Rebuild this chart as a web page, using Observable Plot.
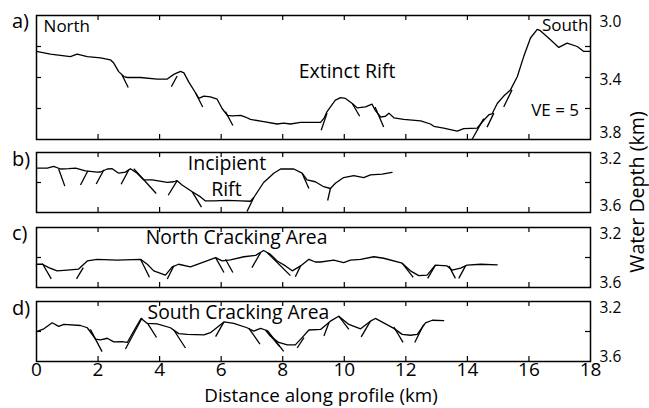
<!DOCTYPE html>
<html><head><meta charset="utf-8">
<script src="https://cdn.jsdelivr.net/npm/d3@7"></script>
<script src="https://cdn.jsdelivr.net/npm/@observablehq/plot@0.6"></script>
<style>
body{margin:0;background:#fff;}
#chart{position:relative;width:649px;height:408px;overflow:hidden;font-family:"Open Sans",sans-serif;background:#fff;}
#chart svg{position:absolute;left:0;}
</style></head><body><div id="chart"></div>
<script>
// ---------- data ----------
const xTickValues = [0,2,4,6,8,10,12,14,16,18];

const profileA_km = [0,0.45,1.1,1.32,1.65,2.08,2.4,2.51,2.67,2.84,2.95,3.38,3.92,4.25,4.46,4.68,4.79,4.95,5.17,5.27,5.44,5.65,5.87,6.03,6.2,6.36,6.63,6.79,6.95,7.38,7.82,8.03,8.25,8.58,9.23,9.35,9.44,9.71,9.88,10.04,10.26,10.42,10.69,10.9,11.0,11.18,11.34,11.45,11.61,11.93,12.48,12.8,12.91,13.23,13.67,13.88,14.32,14.53,14.7,14.8,14.97,15.18,15.4,15.62,15.83,16.05,16.27,16.37,16.7,16.97,17.24,17.57,17.78,18];
const profileA_depth = [3.232,3.249,3.265,3.249,3.265,3.273,3.286,3.307,3.362,3.394,3.40,3.40,3.41,3.41,3.38,3.36,3.37,3.43,3.50,3.535,3.52,3.525,3.54,3.60,3.644,3.648,3.644,3.655,3.67,3.685,3.70,3.694,3.70,3.69,3.69,3.66,3.62,3.546,3.53,3.535,3.568,3.596,3.59,3.572,3.61,3.655,3.65,3.63,3.66,3.67,3.68,3.70,3.715,3.726,3.746,3.73,3.726,3.676,3.64,3.635,3.568,3.52,3.48,3.395,3.265,3.145,3.09,3.098,3.156,3.206,3.178,3.2,3.232,3.232];
const faultsA = [[2.78,3.384,2.98,3.464],[4.38,3.46,4.57,3.39],[5.17,3.50,5.4,3.59],[6.14,3.62,6.38,3.71],[9.44,3.63,9.25,3.74],[10.26,3.568,10.5,3.65],[11.0,3.59,11.28,3.72],[14.15,3.80,14.53,3.665],[14.64,3.72,14.86,3.63],[15.18,3.59,15.45,3.48]];

const profileB_km = [0,0.35,0.56,0.78,1.05,1.27,1.59,1.97,2.08,2.3,2.46,2.67,2.89,3.05,3.27,3.49,3.76,4.25,4.46,4.57,4.73,5.06,5.33,5.49,5.76,6.2,6.63,6.95,7.06,7.38,7.71,7.93,8.36,8.63,8.79,9.06,9.33,9.55,9.71,9.98,10.31,10.63,10.85,11.23,11.55];
const profileB_depth = [3.304,3.304,3.293,3.31,3.308,3.304,3.322,3.331,3.33,3.31,3.308,3.338,3.331,3.308,3.338,3.383,3.383,3.399,3.395,3.388,3.417,3.462,3.496,3.523,3.523,3.519,3.523,3.525,3.50,3.40,3.338,3.31,3.31,3.338,3.383,3.395,3.428,3.44,3.405,3.367,3.354,3.367,3.349,3.344,3.333];
const faultsB = [[0.72,3.31,0.92,3.424],[1.67,3.322,1.43,3.417],[2.19,3.315,1.94,3.41],[3.0,3.315,2.75,3.412],[3.16,3.308,3.89,3.473],[4.57,3.388,4.28,3.485],[5.06,3.462,5.36,3.564],[7.06,3.50,6.84,3.593],[8.63,3.338,8.85,3.44],[9.55,3.44,9.46,3.52]];

const profileC_km = [0,0.19,0.4,0.67,1.0,1.37,1.65,1.97,2.62,3.38,3.6,3.81,4.19,4.41,4.62,5.0,5.38,5.82,6.03,6.3,6.74,7.12,7.38,7.6,7.82,8.09,8.31,8.58,8.85,9.06,9.23,9.66,9.98,10.2,10.53,10.96,11.28,11.88,12.15,12.42,12.69,12.96,13.34,13.5,13.78,13.99,14.43,14.97];
const profileC_depth = [3.445,3.445,3.467,3.489,3.484,3.477,3.423,3.412,3.418,3.412,3.445,3.489,3.517,3.462,3.445,3.462,3.434,3.401,3.423,3.416,3.395,3.386,3.353,3.379,3.423,3.456,3.489,3.456,3.412,3.43,3.43,3.418,3.434,3.418,3.412,3.395,3.405,3.438,3.489,3.521,3.517,3.451,3.456,3.484,3.471,3.451,3.445,3.449];
const faultsC = [[0.19,3.44,0.48,3.543],[1.52,3.467,1.3,3.543],[3.38,3.412,3.67,3.532],[4.46,3.456,4.25,3.543],[5.82,3.401,6.09,3.50],[6.14,3.412,6.38,3.50],[7.28,3.368,7.0,3.467],[7.5,3.368,8.25,3.521],[8.58,3.456,8.41,3.528],[11.88,3.438,12.24,3.532],[12.96,3.451,12.71,3.539],[13.4,3.456,13.61,3.539],[13.94,3.456,13.72,3.539]];

const profileD_km = [0,0.24,0.51,0.72,0.89,1.43,1.65,1.92,2.08,2.3,2.51,2.78,2.95,3.16,3.4,3.6,3.92,4.35,4.62,4.9,5.44,5.65,6.09,6.41,6.84,7.06,7.28,7.44,7.6,7.87,8.15,8.41,8.63,8.85,9.23,9.55,9.82,10.15,10.53,10.85,11.01,11.28,11.61,11.88,12.15,12.37,12.64,12.86,13.23];
const profileD_depth = [3.401,3.382,3.342,3.366,3.353,3.36,3.375,3.451,3.456,3.445,3.469,3.467,3.473,3.397,3.313,3.346,3.349,3.375,3.414,3.419,3.423,3.408,3.336,3.346,3.375,3.397,3.379,3.39,3.43,3.473,3.489,3.489,3.441,3.39,3.386,3.331,3.298,3.353,3.382,3.331,3.313,3.342,3.379,3.419,3.425,3.419,3.342,3.325,3.327];
const faultsD = [[1.75,3.386,2.13,3.534],[3.43,3.31,2.89,3.517],[3.6,3.342,3.9,3.44],[4.46,3.39,4.84,3.51],[6.09,3.336,5.82,3.434],[6.9,3.379,7.26,3.484],[7.5,3.392,8.03,3.532],[7.45,3.39,7.9,3.50],[8.69,3.441,8.47,3.51],[9.5,3.342,9.34,3.43],[9.82,3.298,10.15,3.386],[10.85,3.331,10.55,3.436],[11.61,3.37,11.91,3.473],[12.58,3.353,12.29,3.473]];

const notesA = [
  {x:0.23, y:3.072, text:"North", anchor:"start", size:17},
  {x:17.93, y:3.068, text:"South", anchor:"end", size:17},
  {x:10.09, y:3.361, text:"Extinct Rift", anchor:"middle", size:19.5},
  {x:16.85, y:3.614, text:"VE = 5", anchor:"middle", size:17}
];
const notesB = [
  {x:6.19, y:3.273, text:"Incipient", anchor:"middle", size:19.5},
  {x:6.17, y:3.449, text:"Rift", anchor:"middle", size:19.5}
];
const notesC = [{x:6.5, y:3.272, text:"North Cracking Area", anchor:"middle", size:19.3}];
const notesD = [{x:6.56, y:3.273, text:"South Cracking Area", anchor:"middle", size:19.3}];

// ---------- drawing ----------
const W = 649, ML = 36, MR = 59;
const innerW = W - ML - MR;
const chart = document.getElementById("chart");

function panel(cfg) {
  const {top, marginTop, innerH, marginBottom, yDomain, yTicks, yLabels, yLabelDy, km, depth, faults, notes, showX} = cfg;
  const pts = km.map((k, i) => ({km: k, depth: depth[i]}));
  const xInner = xTickValues.slice(1, -1);
  const marks = [
    Plot.ruleX(xInner, {x: d => d, insetBottom: innerH - 5, stroke: "#000", strokeWidth: 1.2}),
    Plot.ruleX(xInner, {x: d => d, insetTop: innerH - 5, stroke: "#000", strokeWidth: 1.2}),
    Plot.ruleY(yTicks, {y: d => d, insetRight: innerW - 5, stroke: "#000", strokeWidth: 1.2}),
    Plot.ruleY(yTicks, {y: d => d, insetLeft: innerW - 5, stroke: "#000", strokeWidth: 1.2}),
    Plot.line(pts, {x: "km", y: "depth", stroke: "#000", strokeWidth: 1.3, curve: "linear"}),
    Plot.link(faults, {x1: d => d[0], y1: d => d[1], x2: d => d[2], y2: d => d[3], stroke: "#000", strokeWidth: 1.3}),
    ...notes.map(n => Plot.text([n], {x: "x", y: "y", text: "text", textAnchor: n.anchor, fontSize: n.size, fill: "#000"})),
    ...yLabels.map((v, i) => Plot.text([v], {y: d => d, text: d => d.toFixed(1), frameAnchor: "right", textAnchor: "start", dx: 9, dy: yLabelDy[i], fontSize: 15.5, fill: "#000"})),
    Plot.frame({stroke: "#000", strokeWidth: 1.5})
  ];
  if (showX) {
    marks.push(Plot.text(xTickValues, {x: d => d, text: d => String(d), frameAnchor: "bottom", lineAnchor: "top", dy: 1, fontSize: 19, fill: "#000"}));
  }
  const svg = Plot.plot({
    width: W,
    height: marginTop + innerH + marginBottom,
    marginLeft: ML, marginRight: MR, marginTop, marginBottom,
    x: {domain: [0, 18], axis: null},
    y: {domain: yDomain, reverse: true, axis: null},
    style: {background: "transparent", overflow: "visible", fontFamily: "'Open Sans', sans-serif", color: "#000"},
    marks
  });
  svg.style.top = top + "px";
  chart.appendChild(svg);
}

panel({top: 0, marginTop: 15, innerH: 124, marginBottom: 3, yDomain: [3.0, 3.8], yTicks: [3.2, 3.4, 3.6],
  yLabels: [3.0, 3.4, 3.8], yLabelDy: [7, 3, -6], km: profileA_km, depth: profileA_depth, faults: faultsA, notes: notesA});
panel({top: 142, marginTop: 10, innerH: 60, marginBottom: 3, yDomain: [3.2, 3.6], yTicks: [3.4],
  yLabels: [3.2, 3.6], yLabelDy: [7, -6], km: profileB_km, depth: profileB_depth, faults: faultsB, notes: notesB});
panel({top: 215, marginTop: 12, innerH: 60, marginBottom: 3, yDomain: [3.2, 3.6], yTicks: [3.4],
  yLabels: [3.2, 3.6], yLabelDy: [6.5, -4], km: profileC_km, depth: profileC_depth, faults: faultsC, notes: notesC});
panel({top: 290, marginTop: 11, innerH: 60, marginBottom: 30, yDomain: [3.2, 3.6], yTicks: [3.4],
  yLabels: [3.2, 3.6], yLabelDy: [6.5, -4], km: profileD_km, depth: profileD_depth, faults: faultsD, notes: notesD, showX: true});

// titles and panel letters
const ns = "http://www.w3.org/2000/svg";
const over = document.createElementNS(ns, "svg");
over.setAttribute("width", W); over.setAttribute("height", 408);
over.style.top = "0px"; over.style.fontFamily = "'Open Sans', sans-serif";
function addText(str, x, y, size, attrs = {}) {
  const t = document.createElementNS(ns, "text");
  t.setAttribute("x", x); t.setAttribute("y", y);
  t.setAttribute("font-size", size); t.setAttribute("fill", "#000");
  for (const k in attrs) t.setAttribute(k, attrs[k]);
  t.textContent = str; over.appendChild(t);
}
const panelLetters = ["a)", "b)", "c)", "d)"];
const letterY = [28, 166, 240, 315];
panelLetters.forEach((s, i) => addText(s, 12, letterY[i], 20));
addText("Distance along profile (km)", 321, 402, 18.8, {"text-anchor": "middle"});
addText("Water Depth (km)", 0, 0, 19.6, {"text-anchor": "middle", transform: "translate(644,192) rotate(-90)"});
chart.appendChild(over);
</script></body></html>
